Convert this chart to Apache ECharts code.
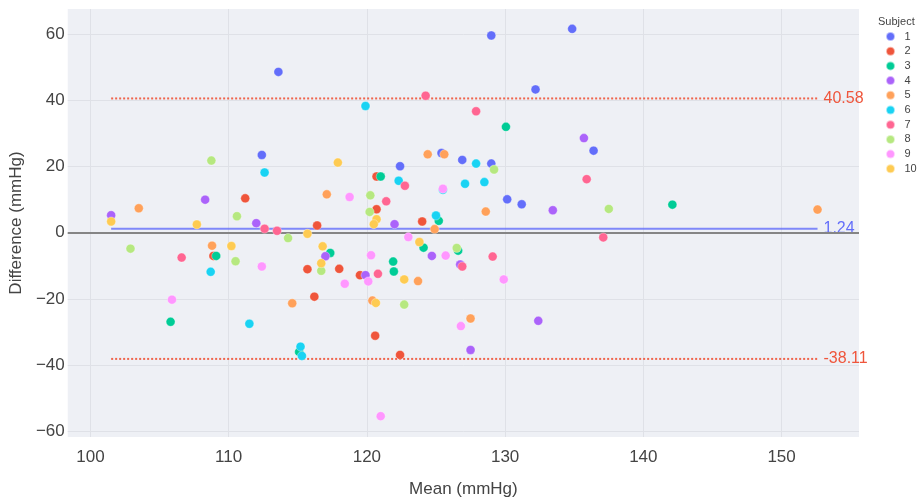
<!DOCTYPE html>
<html>
<head>
<meta charset="utf-8">
<script src="https://cdn.jsdelivr.net/npm/echarts@6/dist/echarts.min.js"></script>
<style>
  html, body { margin: 0; padding: 0; background: #ffffff; }
  #chart { width: 920px; height: 503px; }
</style>
</head>
<body>
<div id="chart"></div>
<script>
// Bland-Altman plot: mean of two measurements vs. their difference, one series per subject
const subjects = ['1', '2', '3', '4', '5', '6', '7', '8', '9', '10'];
const subjectColors = ['#636EFA', '#EF553B', '#00CC96', '#AB63FA', '#FFA15A',
                       '#19D3F3', '#FF6692', '#B6E880', '#FF97FF', '#FECB52'];

// Mean (mmHg) per subject
const means = [
  [113.6, 112.4, 129.0, 132.2, 125.4, 126.9, 129.0, 122.4, 134.85, 136.4, 130.15, 131.2],
  [111.2, 108.9, 115.7, 120.7, 120.7, 124.0, 116.4, 118.0, 119.5, 116.2, 120.6, 122.4],
  [130.06, 109.1, 105.8, 115.1, 121.0, 125.2, 124.1, 126.6, 117.35, 121.9, 121.95, 142.1],
  [135.7, 108.3, 101.5, 112.0, 133.45, 122.0, 117.0, 124.7, 126.75, 119.9, 127.5, 132.4],
  [124.4, 125.6, 103.5, 108.8, 114.6, 117.1, 124.9, 128.6, 123.7, 120.4, 127.5, 152.6],
  [119.9, 127.9, 112.6, 108.7, 111.5, 115.2, 115.3, 122.3, 127.1, 128.5, 125.5, 125.0],
  [124.25, 127.9, 112.6, 113.5, 106.6, 122.75, 121.4, 129.1, 126.9, 120.8, 135.9, 137.1],
  [108.75, 129.2, 110.6, 114.3, 102.9, 110.5, 120.25, 120.2, 126.5, 116.7, 122.7, 137.5],
  [112.4, 105.9, 125.5, 118.75, 123.0, 120.3, 125.7, 120.1, 118.4, 129.9, 121.0, 126.8],
  [117.9, 101.5, 107.7, 115.7, 110.2, 120.7, 120.5, 123.8, 116.8, 116.7, 122.7, 120.65]
];

// Difference (mmHg) per subject
const diffs = [
  [48.6, 23.5, 59.6, 43.3, 24.1, 22.0, 20.9, 20.1, 61.6, 24.8, 10.1, 8.6],
  [10.4, -7.0, -11.0, 17.0, 7.1, 3.4, 2.2, -10.9, -12.8, -19.3, -31.1, -36.9],
  [32.0, -7.0, -26.9, -36.0, 17.0, 3.6, -4.5, -5.4, -6.1, -8.7, -11.7, 8.5],
  [28.6, 10.0, 5.3, 2.9, 6.8, 2.6, -7.1, -7.0, -9.6, -12.8, -35.4, -26.6],
  [23.7, 23.7, 7.4, -3.9, -21.3, 11.6, 1.1, 6.4, -14.6, -20.5, -25.9, 7.0],
  [38.3, 20.9, 18.2, -11.8, -27.5, -34.4, -37.2, 15.7, 14.8, 15.3, 13.0, 5.2],
  [41.4, 36.7, 1.2, 0.6, -7.5, 14.2, 9.5, -7.2, -10.2, -12.4, 16.2, -1.4],
  [21.8, 19.1, 5.0, -1.6, -4.8, -8.6, 11.3, 6.3, -4.6, -11.5, -21.7, 7.2],
  [-10.2, -20.2, 13.3, 10.8, -1.3, -6.8, -6.9, -14.7, -15.4, -14.1, -55.4, -28.2],
  [21.2, 3.4, 2.5, -0.3, -4.0, 4.1, 2.6, -2.8, -4.1, -9.2, -14.1, -21.2]
];

// Bias and limits of agreement
const biasValue = 1.24;
const upperLimit = 40.58;
const lowerLimit = -38.11;

const allMeans = means.flat();
const xStart = Math.min(...allMeans);
const xEnd = Math.max(...allMeans);

const fontFamily = "'Liberation Sans', Arial, sans-serif";
const textColor = '#444444';

const scatterSeries = subjects.map((name, i) => ({
  name: name,
  type: 'scatter',
  symbol: 'circle',
  symbolSize: 9,
  z: 5,
  itemStyle: { color: subjectColors[i], opacity: 1, borderColor: 'rgba(255,255,255,0.55)', borderWidth: 0.6 },
  emphasis: { disabled: true },
  data: means[i].map((m, j) => [m, diffs[i][j]])
}));

function refLine(value, color, type, width, opacity) {
  return {
    type: 'line',
    silent: true,
    z: 2,
    symbol: 'none',
    lineStyle: { color: color, type: type, width: width, opacity: opacity },
    data: [[xStart, value], [xEnd, value]],
    endLabel: {
      show: true,
      formatter: () => value.toFixed(2),
      color: color,
      fontSize: 16,
      fontFamily: fontFamily,
      distance: 6
    },
    emphasis: { disabled: true },
    animation: false
  };
}

// Zero reference across the full plot width
const zeroSeries = {
  type: 'scatter',
  silent: true,
  data: [],
  z: 1,
  markLine: {
    silent: true,
    symbol: 'none',
    label: { show: false },
    lineStyle: { color: '#858585', width: 2, type: 'solid' },
    data: [{ yAxis: 0 }],
    animation: false
  }
};

const chart = echarts.init(document.getElementById('chart'), null, { renderer: 'canvas' });

chart.setOption({
  animation: false,
  backgroundColor: '#ffffff',
  textStyle: { fontFamily: fontFamily },
  title: {
    text: 'Subject',
    left: 873,
    top: 11,
    textStyle: { fontSize: 11, fontWeight: 'normal', color: textColor, fontFamily: fontFamily }
  },
  legend: {
    data: subjects,
    orient: 'vertical',
    left: 880,
    top: 26,
    itemWidth: 18,
    itemHeight: 9,
    itemGap: 3.7,
    icon: 'circle',
    textStyle: { fontSize: 11, color: textColor, lineHeight: 10, fontFamily: fontFamily }
  },
  grid: {
    left: 67,
    right: 61,
    top: 9,
    bottom: 63,
    show: true,
    backgroundColor: '#EEF0F5',
    borderWidth: 0
  },
  xAxis: {
    type: 'value',
    min: 98.36,
    max: 155.6,
    splitNumber: 5,
    name: 'Mean (mmHg)',
    nameLocation: 'middle',
    nameGap: 44,
    nameTextStyle: { fontSize: 17, color: textColor, fontFamily: fontFamily },
    axisLine: { show: false },
    axisTick: { show: false },
    axisLabel: {
      fontSize: 17, color: textColor, margin: 12, fontFamily: fontFamily,
      showMinLabel: false, showMaxLabel: false,
      formatter: v => (Math.abs(v % 10) < 1e-6 ? String(v) : '')
    },
    splitLine: { show: true, showMinLine: false, showMaxLine: false, lineStyle: { color: '#DFE1E7', width: 1 } }
  },
  yAxis: {
    type: 'value',
    min: -61.7,
    max: 67.6,
    splitNumber: 6,
    name: 'Difference (mmHg)',
    nameLocation: 'middle',
    nameGap: 32,
    nameTextStyle: { fontSize: 17, color: textColor, fontFamily: fontFamily },
    axisLine: { show: false },
    axisTick: { show: false },
    axisLabel: {
      fontSize: 17, color: textColor, margin: 3, fontFamily: fontFamily,
      showMinLabel: false, showMaxLabel: false,
      formatter: v => (Math.abs(v % 20) < 1e-6 ? (v < 0 ? '\u2212' + Math.abs(v) : String(v)) : '')
    },
    splitLine: { show: true, showMinLine: false, showMaxLine: false, lineStyle: { color: '#DFE1E7', width: 1 } }
  },
  series: [
    zeroSeries,
    refLine(biasValue, '#636EFA', 'solid', 2, 0.8),
    refLine(upperLimit, '#EF553B', [2, 2], 2, 0.9),
    refLine(lowerLimit, '#EF553B', [2, 2], 2, 0.9),
    ...scatterSeries
  ]
});
</script>
</body>
</html>
